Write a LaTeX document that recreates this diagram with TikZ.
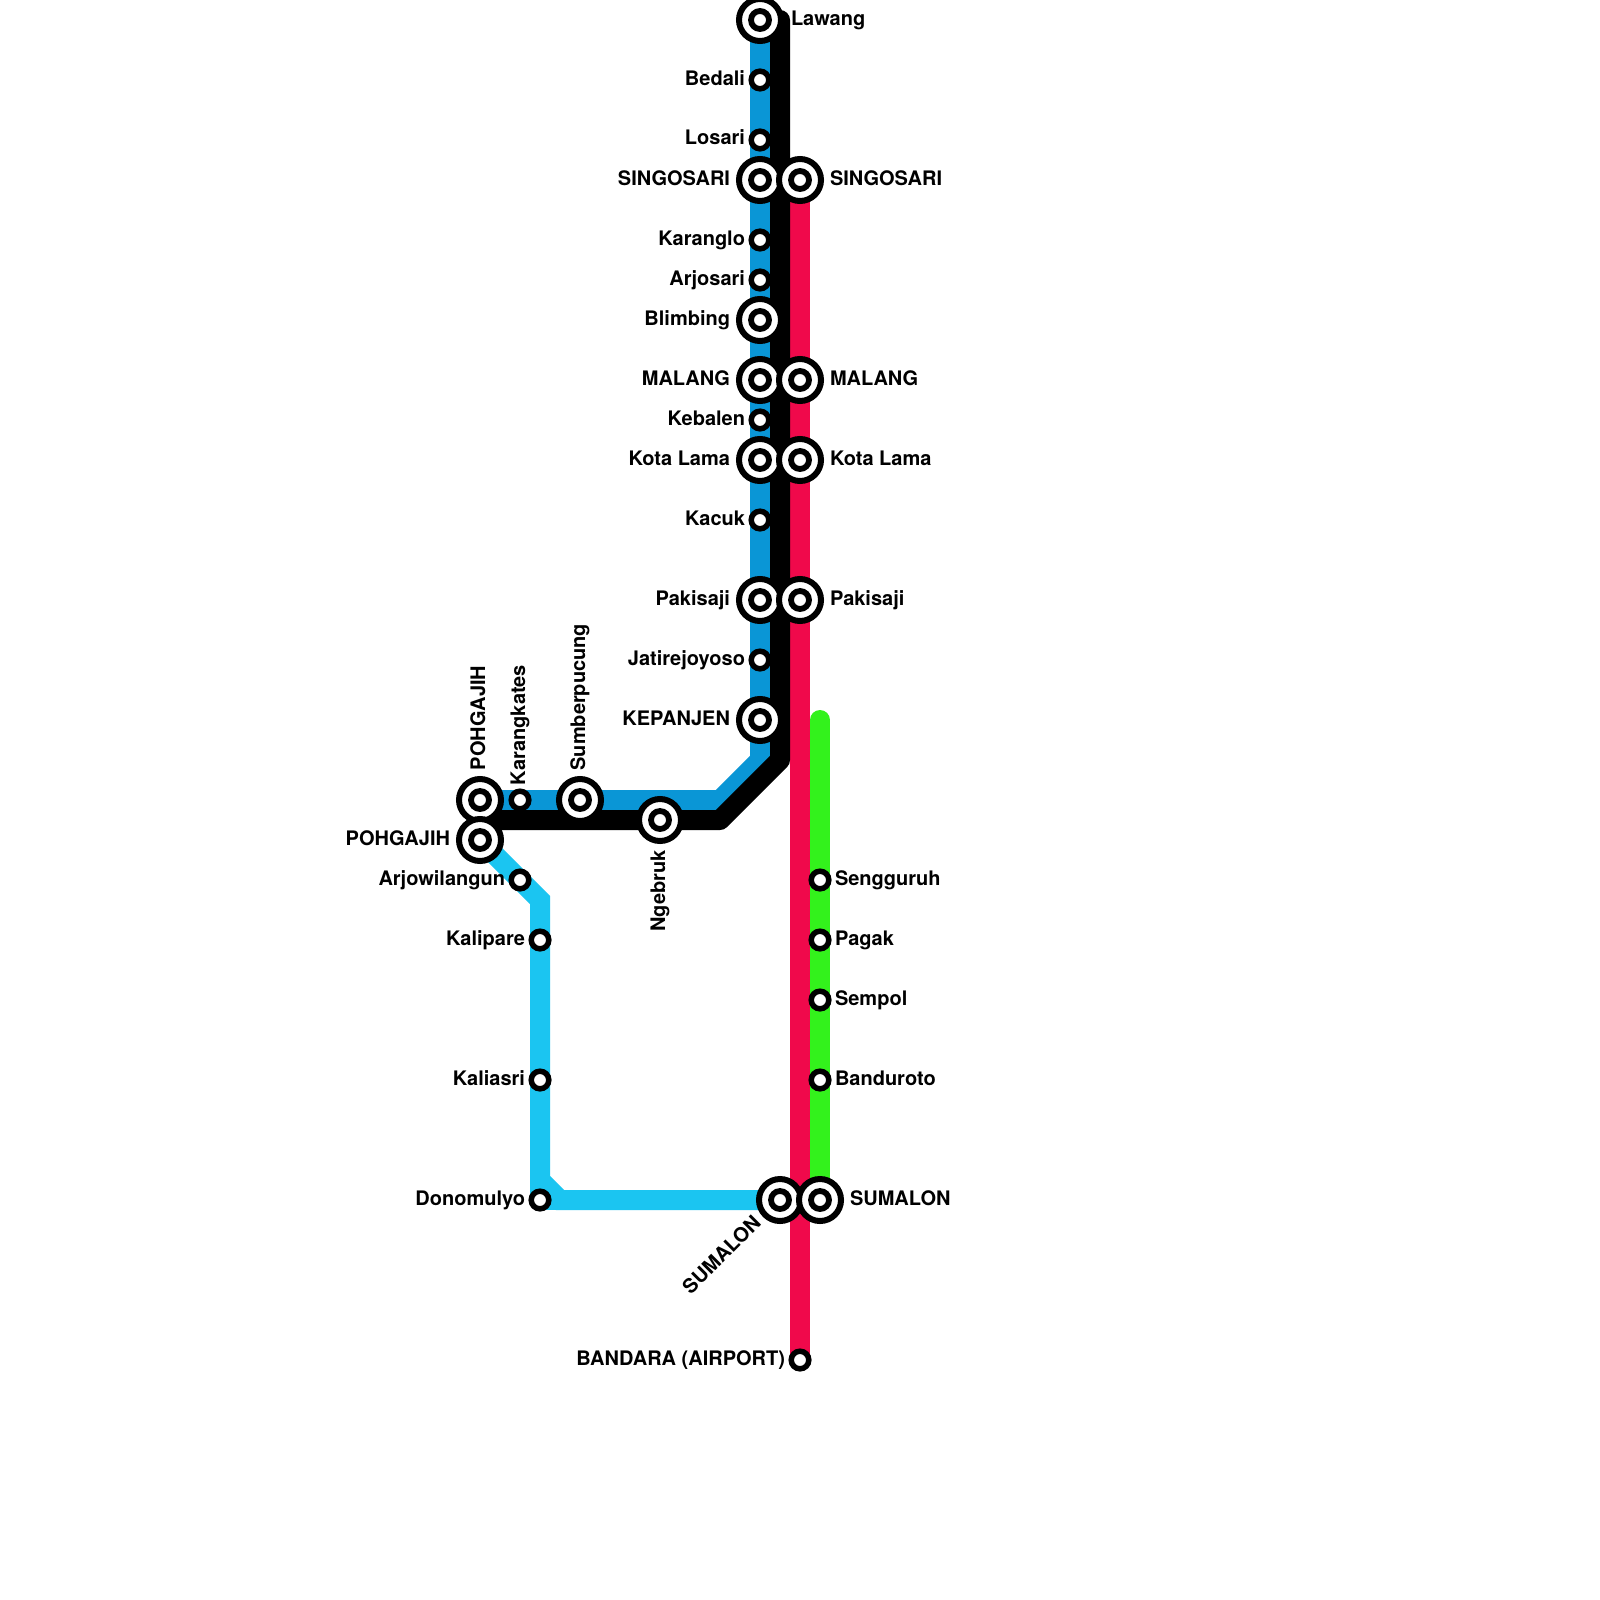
\documentclass[tikz,border=0pt]{standalone}
\usepackage{fontspec}
\setmainfont{TeX Gyre Heros}
\pgfdeclarelayer{lines}
\pgfsetlayers{lines,main}
\definecolor{lineblue}{HTML}{0A96D6}
\definecolor{linesky}{HTML}{1BC5F1}
\definecolor{linered}{HTML}{F0094B}
\definecolor{linegreen}{HTML}{33F21C}
\tikzset{
  big/.style={circle,draw=black,fill=white,line width=3pt,minimum size=21pt,inner sep=0pt,outer sep=0pt,
    path picture={\draw[black,line width=2.9pt] (path picture bounding box.center) circle (4.5pt);}},
  small/.style={circle,draw=black,fill=white,line width=2.75pt,minimum size=8.8pt,inner sep=0pt,outer sep=0pt},
  tram/.style={line width=10pt,line join=miter},
  txt/.style={font=\bfseries\fontsize{10}{12}\selectfont,text=black,inner sep=0pt,outer sep=0pt},
  lt/.style={txt,anchor=base east},
  rt/.style={txt,anchor=base west},
  up/.style={txt,anchor=base west,rotate=90},
  dn/.style={txt,anchor=base east,rotate=90}
}
\begin{document}
\begin{tikzpicture}[x=0.5pt,y=-0.5pt]
\useasboundingbox (0,0) rectangle (1600,1600);
% blue line stations
\node[big] (lawang) at (760,20) {};
\node[small] (bedali) at (760,80) {};
\node[small] (losari) at (760,140) {};
\node[big] (singoL) at (760,180) {};
\node[small] (karanglo) at (760,240) {};
\node[small] (arjosari) at (760,280) {};
\node[big] (blimbing) at (760,320) {};
\node[big] (malangL) at (760,380) {};
\node[small] (kebalen) at (760,420) {};
\node[big] (kotaL) at (760,460) {};
\node[small] (kacuk) at (760,520) {};
\node[big] (pakiL) at (760,600) {};
\node[small] (jati) at (760,660) {};
\node[big] (kepanjen) at (760,720) {};
\node[small] (karangkates) at (520,800) {};
\node[big] (sumber) at (580,800) {};
\node[big] (ngebruk) at (660,820) {};
\node[big] (pohA) at (480,800) {};
\node[big] (pohB) at (480,840) {};
\node[small] (arjow) at (520,880) {};
\node[small] (kalipare) at (540,940) {};
\node[small] (kaliasri) at (540,1080) {};
\node[small] (donomulyo) at (540,1200) {};
\node[big] (sumL) at (780,1200) {};
% red line stations
\node[big] (singoR) at (800,180) {};
\node[big] (malangR) at (800,380) {};
\node[big] (kotaR) at (800,460) {};
\node[big] (pakiR) at (800,600) {};
\node[small] (bandara) at (800,1360) {};
% green line stations
\node[small] (sengguruh) at (820,880) {};
\node[small] (pagak) at (820,940) {};
\node[small] (sempol) at (820,1000) {};
\node[small] (banduroto) at (820,1080) {};
\node[big] (sumR) at (820,1200) {};
% bends and free ends
\coordinate (blueA) at (760,760);
\coordinate (blueB) at (720,800);
\coordinate (blackTop) at (780,20);
\coordinate (blackA) at (780,760);
\coordinate (blackB) at (720,820);
\coordinate (blackEnd) at (480,820);
\coordinate (skyA) at (540,900);
\coordinate (skyB) at (540,1180);
\coordinate (skyC) at (560,1200);
\coordinate (greenTop) at (820,720);
\begin{pgfonlayer}{lines}
\fill[white] (0,0) rectangle (1600,1600);
\draw[tram,lineblue] (lawang.center) -- (blueA) -- (blueB) -- (pohA.center);
\draw[tram,linesky] (pohB.center) -- (skyA) -- (skyB) -- (skyC) -- (sumL.center);
\draw[tram,linesky] (skyB) -- (donomulyo.center);
\draw[tram,linesky] (donomulyo.center) -- (skyC);
\draw[tram,linegreen,line cap=round] (greenTop) -- (sumR.center);
\draw[tram,linered] (singoR.center) -- (bandara.center);
\draw[tram,black,line cap=round,line join=round] (blackTop) -- (blackA) -- (blackB) -- (blackEnd);
\end{pgfonlayer}
% labels
\node[rt] (tLawang) at (791,25.5) {Lawang};
\node[lt] (tBedali) at (745,85.5) {Bedali};
\node[lt] (tLosari) at (745,145) {Losari};
\node[lt] (tSingoL) at (730,185) {SINGOSARI};
\node[rt] (tSingoR) at (830,185) {SINGOSARI};
\node[lt] (tKaranglo) at (745,245) {Karanglo};
\node[lt] (tArjosari) at (745,285) {Arjosari};
\node[lt] (tBlimbing) at (730,325) {Blimbing};
\node[lt] (tMalangL) at (730,385) {MALANG};
\node[rt] (tMalangR) at (830,385) {MALANG};
\node[lt] (tKebalen) at (745,425) {Kebalen};
\node[lt] (tKotaL) at (730,465) {Kota Lama};
\node[rt] (tKotaR) at (830,465) {Kota Lama};
\node[lt] (tKacuk) at (745,525) {Kacuk};
\node[lt] (tPakiL) at (730,605) {Pakisaji};
\node[rt] (tPakiR) at (830,605) {Pakisaji};
\node[lt] (tJati) at (745,665) {Jatirejoyoso};
\node[lt] (tKepanjen) at (730,725) {KEPANJEN};
\node[up] (tPohA) at (485,770) {POHGAJIH};
\node[up] (tKarang) at (525,785) {Karangkates};
\node[up] (tSumber) at (585,770.5) {Sumberpucung};
\node[dn] (tNgebruk) at (665,850.5) {Ngebruk};
\node[lt] (tPohB) at (450,845) {POHGAJIH};
\node[lt] (tArjow) at (505,885) {Arjowilangun};
\node[lt] (tKalipare) at (525,945) {Kalipare};
\node[lt] (tKaliasri) at (525,1085) {Kaliasri};
\node[lt] (tDono) at (525,1205) {Donomulyo};
\node[txt,anchor=base east,rotate=45] (tSumL) at (762,1224) {SUMALON};
\node[rt] (tSumR) at (850,1205) {SUMALON};
\node[lt] (tBandara) at (785,1365) {BANDARA (AIRPORT)};
\node[rt] (tSengguruh) at (835,885) {Sengguruh};
\node[rt] (tPagak) at (835,945) {Pagak};
\node[rt] (tSempol) at (835,1005) {Sempol};
\node[rt] (tBanduroto) at (835,1085) {Banduroto};
\end{tikzpicture}
\end{document}
